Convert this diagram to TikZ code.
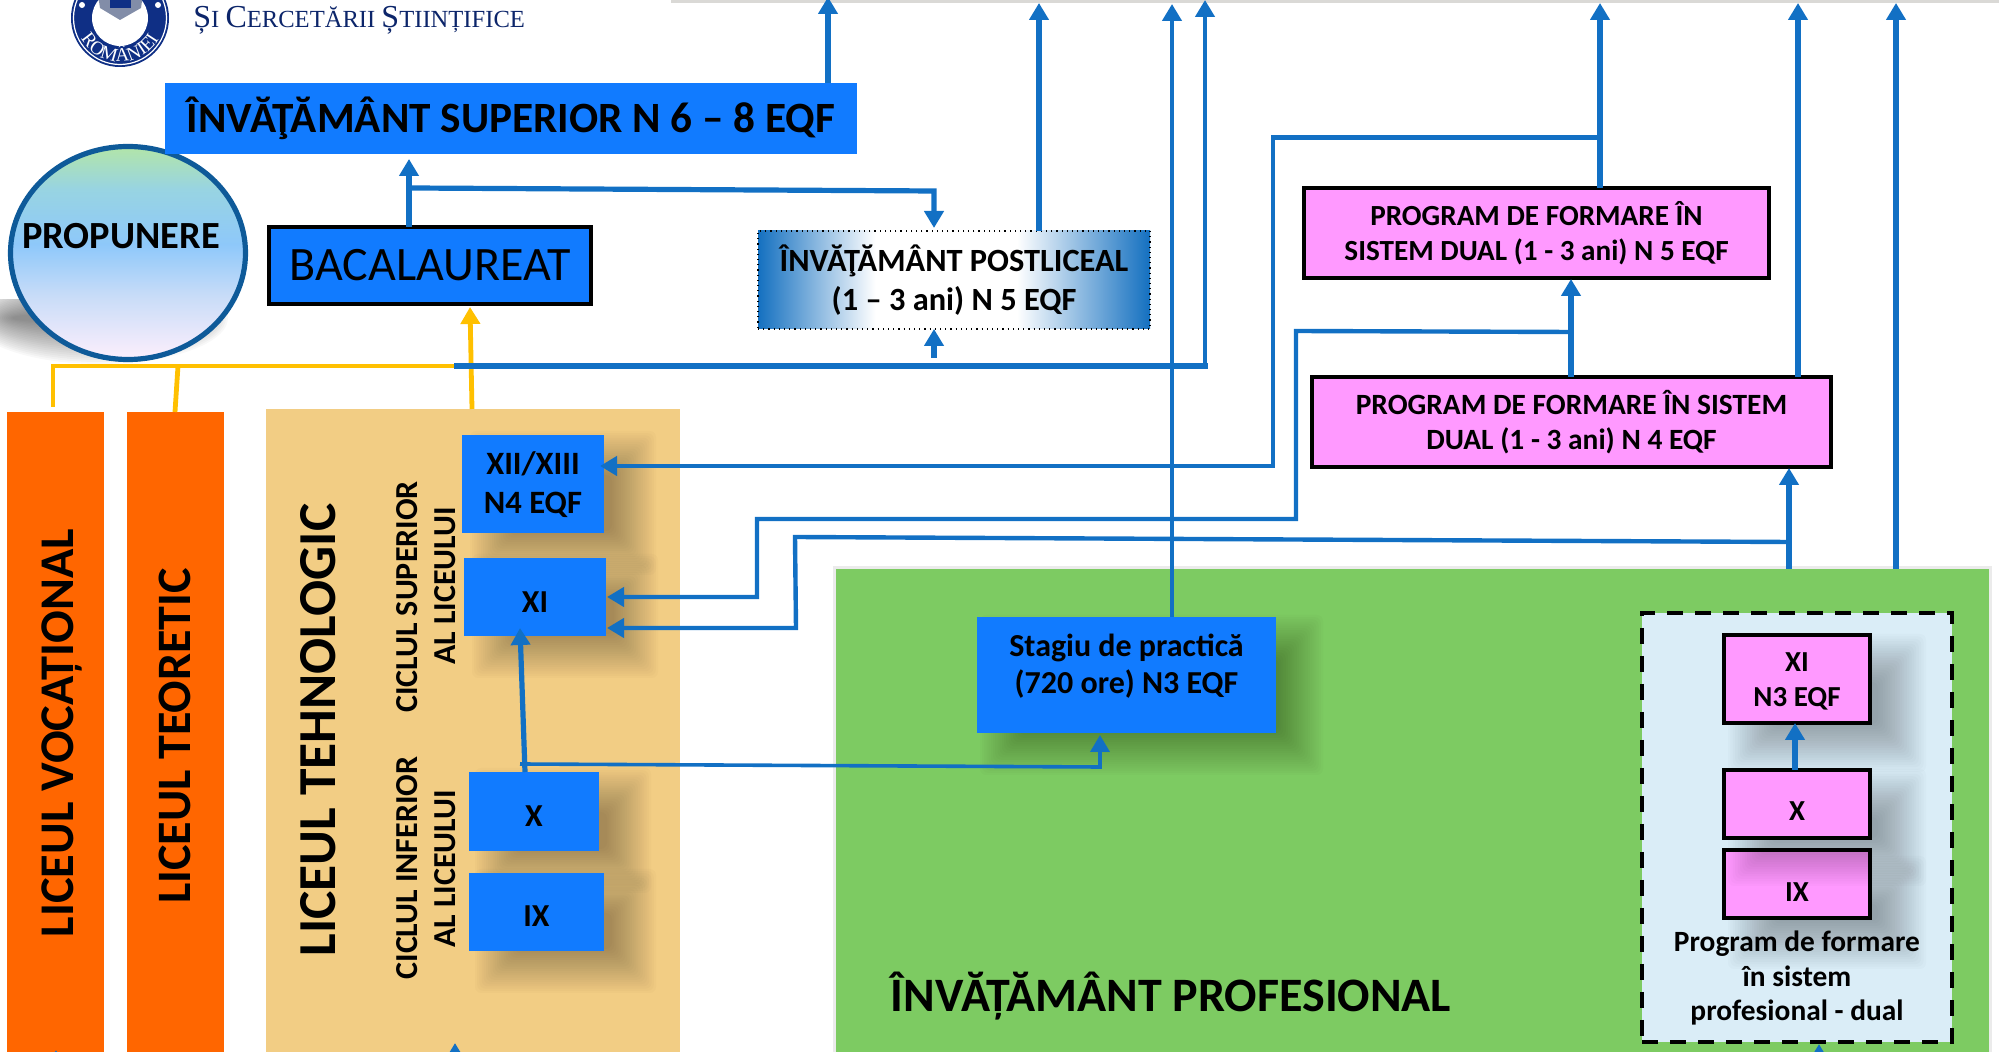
\documentclass[tikz,border=0pt]{standalone}
\usepackage{fontspec}
\setmainfont{Carlito}
\newfontfamily\serifhdr{Liberation Serif}
\usetikzlibrary{arrows.meta,decorations.text,shapes.geometric}
\definecolor{linkblue}{HTML}{1270C4}
\definecolor{boxblue}{HTML}{117BFF}
\definecolor{pinkbox}{HTML}{FF99FF}
\definecolor{orangebar}{HTML}{FF6600}
\definecolor{tanbar}{HTML}{F2CD84}
\definecolor{greenbar}{HTML}{7DCB62}
\definecolor{yellowline}{HTML}{FFC000}
\definecolor{palebox}{HTML}{DAEDF7}
\definecolor{navyseal}{HTML}{0F2F85}
\definecolor{edgeblue}{HTML}{1470C0}
\definecolor{ringblue}{HTML}{0E5A99}
\definecolor{propa}{HTML}{FDEFFC}
\definecolor{propb}{HTML}{C8DCF8}
\definecolor{propc}{HTML}{8EC8FA}
\definecolor{propd}{HTML}{98D4E2}
\definecolor{prope}{HTML}{B2E5A8}
\pgfdeclarehorizontalshading{postlshade}{100bp}{color(0bp)=(edgeblue); color(25bp)=(edgeblue); color(40bp)=(white); color(58bp)=(white); color(75bp)=(edgeblue); color(100bp)=(edgeblue)}
\pgfdeclareverticalshading{propshade}{100bp}{color(0bp)=(propa); color(25bp)=(propa); color(40bp)=(propb); color(52bp)=(propc); color(65bp)=(propd); color(75bp)=(prope); color(100bp)=(prope)}
\newcommand\fz[2]{\fontsize{#1pt}{#2pt}\selectfont}
\newcommand\shiftdown[2]{\raisebox{-#1}[\height][\depth]{#2}}
\newcommand\bx[7]{%
  \pgfmathsetmacro\cx{(#2+#4)/2}\pgfmathsetmacro\cy{(#3+#5)/2}%
  \pgfmathsetmacro\bw{(#4-#2)*0.5}\pgfmathsetmacro\bh{(#5-#3)*0.5}%
  \node[boxbase,#6,minimum width=\bw pt,minimum height=\bh pt] (#1) at (\cx,\cy) {#7};}
\newcommand\soft[6]{% x1 y1 x2 y2 blur alpha
  \foreach \k in {-10,...,10}{%
    \pgfmathsetmacro\dd{\k*#5/10}%
    \fill[black,opacity=#6,rounded corners=3pt] ({#1-\dd},{#2-\dd}) rectangle ({#3+\dd},{#4+\dd});}}
\tikzset{
  boxbase/.style={rectangle,inner sep=0pt,outer sep=0pt,align=center},
  fs/.style 2 args={font=\bfseries\fontsize{#1pt}{#2pt}\selectfont},
  blue box/.style={fill=boxblue},
  outlined blue/.style={fill=boxblue,draw=black,line width=2pt},
  pink box/.style={fill=pinkbox,draw=black,line width=2pt},
  conn/.style={draw=linkblue,line width=2.6pt,line cap=butt},
  thin conn/.style={draw=linkblue,line width=2.2pt},
  arr/.style={conn,-{Triangle[length=8.5pt,width=9.5pt]}},
  thin arr/.style={thin conn,-{Triangle[length=8.5pt,width=9.5pt]}},
  yl/.style={draw=yellowline,line width=2.4pt},
  yarr/.style={yl,-{Triangle[length=8.5pt,width=9.5pt]}},
  bar label/.style={rotate=90,inner sep=0pt},
}
\begin{document}
\begin{tikzpicture}[x=0.5pt,y=-0.5pt]
\useasboundingbox (0,0) rectangle (1999,1052);
\clip (0,0) rectangle (1999,1052);
% header
\fill[black!15!yellow!6!gray!35!white] (671,0) rectangle (1999,3);
\fill[navyseal] (120,18) circle [radius=49];
\draw[white,line width=0.6pt] (120,18) circle [radius=46.5];
\fill[white] (120,18) circle [radius=28];
\fill[navyseal!45!gray!70!white] (97,-12) -- (144,-12) -- (141,8) -- (120,20) -- (100,8) -- cycle;
\fill[navyseal] (110,-8) rectangle (131,8);
\node[diamond,fill=white,minimum size=9pt,inner sep=0pt] (sealgem) at (118,32) {};
\fill[white] (82,5) circle [radius=3] (158,5) circle [radius=3];
\path[decorate,decoration={text along path,text align=center,text={|\serifhdr\fontsize{9.5pt}{10pt}\selectfont\color{white}|ROMÂNIEI}}] (77,29) arc [start angle=195,end angle=345,x radius=44.5,y radius=-44];
\node[anchor=west,inner sep=0pt,text=navyseal!80!black] (ministry) at (193,20) {\serifhdr\fontsize{16pt}{18pt}\selectfont Ș\fontsize{12.3pt}{18pt}\selectfont I \fontsize{16pt}{18pt}\selectfont C\fontsize{12.3pt}{18pt}\selectfont ERCETĂRII \fontsize{16pt}{18pt}\selectfont Ș\fontsize{12.3pt}{18pt}\selectfont TIINȚIFICE};
% propunere shadow
\begin{scope}
\clip (0,300) rectangle (300,372);
\foreach \k in {0,...,20}{\fill[black,opacity=.028] (100,318) ellipse [x radius={128-2*\k},y radius={46-2*\k}];}
\end{scope}
% bars
\fill[black,opacity=.08] (833,566) rectangle (1992,1060);
\bx{vocational}{7}{412}{104}{1060}{fill=orangebar}{}
\bx{teoretic}{127}{412}{224}{1060}{fill=orangebar}{}
\bx{tehnologic}{266}{409}{680}{1060}{fill=tanbar}{}
\bx{profesional}{836}{569}{1989}{1060}{fill=greenbar}{}
\node[bar label,fs={24.2}{26}] (lv) at (62,733) {LICEUL VOCAȚIONAL};
\node[bar label,fs={24}{26}] (lt) at (175,736) {LICEUL TEORETIC};
\node[bar label,fs={26.7}{28}] (lte) at (318,730) {LICEUL TEHNOLOGIC};
\node[bar label,fs={16}{18}] (cs1) at (407,597) {CICLUL SUPERIOR};
\node[bar label,fs={16}{18}] (cs2) at (445,586) {AL LICEULUI};
\node[bar label,fs={16}{18}] (ci1) at (407,868) {CICLUL INFERIOR};
\node[bar label,fs={16}{18}] (ci2) at (445,869) {AL LICEULUI};
% yellow links
\coordinate (yl) at (53,366); \coordinate (ym) at (178,366); \coordinate (yr) at (457,366);
\draw[yl,line cap=rect] (yl) -- (yr);
\draw[yl] (vocational.north -| yl) ++(0,-5) -- (yl);
\draw[yl] (teoretic.north -| 175,0) -- (ym);
\coordinate (ytip) at (470,307);
\draw[yarr] (tehnologic.north -| 472,0) -- (ytip);
% ellipse
\node[ellipse,inner sep=0pt,outer sep=0pt,minimum width=117.5pt,minimum height=106.5pt,shade,shading=propshade,draw=ringblue,line width=2.6pt] (prop) at (128,253) {};
\node[inner sep=0pt,fs={19.2}{22}] (proplabel) at (121,236) {PROPUNERE};
% top boxes
\bx{sup}{165}{83}{857}{154}{blue box,fs={21.6}{24}}{ÎNVĂŢĂMÂNT SUPERIOR N 6 – 8 EQF}
\bx{bac}{269}{227}{591}{304}{outlined blue,font=\mdseries\fz{24}{26}}{BACALAUREAT}
\bx{post}{758}{231}{1150}{329}{shade,shading=postlshade,draw=black,dotted,line width=0.6pt,fs={16.2}{19.5}}{ÎNVĂŢĂMÂNT POSTLICEAL\\(1 – 3 ani) N 5 EQF}
\bx{dualv}{1304}{188}{1769}{278}{pink box,fs={14.6}{17.5}}{PROGRAM DE FORMARE ÎN\\SISTEM DUAL (1 - 3 ani) N 5 EQF}
\bx{dualiv}{1312}{377}{1831}{467}{pink box,fs={14.7}{17.5}}{PROGRAM DE FORMARE ÎN SISTEM\\DUAL (1 - 3 ani) N 4 EQF}
% tehnologic grades
\soft{492}{453}{634}{553}{22}{.016}
\soft{494}{576}{636}{656}{22}{.016}
\soft{497}{790}{629}{871}{22}{.016}
\soft{497}{891}{634}{971}{22}{.016}
\bx{xii}{462}{435}{604}{533}{blue box,fs={16.3}{19.5}}{\shiftdown{1.3pt}{\begin{tabular}{@{}c@{}}XII/XIII\\N4 EQF\end{tabular}}}
\bx{xi}{464}{558}{606}{636}{blue box,fs={16}{17}}{\shiftdown{2.5pt}{XI}}
\bx{x}{469}{772}{599}{851}{blue box,fs={16}{17}}{\shiftdown{2.5pt}{X}}
\bx{ix}{469}{873}{604}{951}{blue box,fs={16}{17}}{\shiftdown{2pt}{IX}}
% stagiu
\soft{1002}{637}{1301}{753}{22}{.016}
\bx{stagiu}{977}{617}{1276}{733}{blue box,fs={16}{18.5}}{\shiftdown{-3.5pt}{\begin{tabular}{@{}c@{}}Stagiu de practică\\(720 ore) N3 EQF\end{tabular}}}
\node[inner sep=0pt,fs={24}{26}] (ipro) at (1171,996) {ÎNVĂȚĂMÂNT PROFESIONAL};
% dual panel
\node[rectangle,inner sep=0pt,outer sep=0pt,fill=palebox,draw=black,line width=2pt,dash pattern=on 8pt off 6pt,minimum width=155pt,minimum height=214.5pt] (panel) at (1797,827.5) {};
\soft{1752}{658}{1902}{748}{24}{.016}
\soft{1752}{880}{1902}{945}{24}{.016}
\bx{pix}{1724}{850}{1870}{918}{pink box,fs={14.5}{16}}{\shiftdown{3.8pt}{IX}}
\soft{1752}{793}{1902}{862}{24}{.016}
\bx{px}{1724}{770}{1870}{838}{pink box,fs={14.5}{16}}{\shiftdown{3.8pt}{X}}
\bx{pxi}{1724}{635}{1870}{723}{pink box,fs={14.5}{17.5}}{\shiftdown{1.3pt}{\begin{tabular}{@{}c@{}}XI\\N3 EQF\end{tabular}}}
\node[inner sep=0pt,align=center,fs={14.7}{17.4}] (dualtxt) at (1797,978) {Program de formare\\în sistem\\profesional - dual};
% connectors
\coordinate (tipsup) at (828,-3);
\draw[arr] (sup.north -| tipsup) -- (tipsup);
\coordinate (tipbac) at (409,159); \coordinate (bacsplit) at (411,188); \coordinate (postbend) at (934,191); \coordinate (tippost) at (934,228);
\draw[arr] (bac.north -| tipbac) -- (tipbac);
\draw[arr] (bacsplit) -- (postbend) -- (tippost);
\coordinate (tippostup) at (1039,3);
\draw[arr] (post.north -| tippostup) -- (tippostup);
\coordinate (busend) at (1205,366); \coordinate (tipbus) at (1205,0); \coordinate (tipunder) at (934,329); \coordinate (tailunder) at (934,358);
\draw[arr] (tailunder) -- (tipunder);
\draw[conn,line cap=rect] (yr) -- (busend);
\draw[thin arr] (busend) -- (tipbus);
\coordinate (tipstag) at (1172,4);
\draw[thin arr] (stagiu.north -| tipstag) -- (tipstag);
\coordinate (tipdualv) at (1600,3); \coordinate (splitv) at (1600,137.5); \coordinate (cornerv) at (1273,137.5); \coordinate (cornerv2) at (1273,466); \coordinate (tipxii) at (600,466);
\draw[arr] (dualv.north -| tipdualv) -- (tipdualv);
\draw[conn] (splitv) -- (cornerv);
\draw[thin arr,line cap=rect] (cornerv) -- (cornerv2) -- (tipxii);
\coordinate (tipdv) at (1571,279); \coordinate (splitiv) at (1571,332); \coordinate (civ1) at (1296,331); \coordinate (civ2) at (1296,519); \coordinate (civ3) at (757,519); \coordinate (civ4) at (757,597); \coordinate (tipxi1) at (607,597);
\draw[arr] (dualiv.north -| tipdv) -- (tipdv);
\draw[thin arr] (splitiv) -- (civ1) -- (civ2) -- (civ3) -- (civ4) -- (tipxi1);
\coordinate (tipdiv) at (1789,468); \coordinate (spl) at (1789,542); \coordinate (c1) at (795,537); \coordinate (c2) at (796,628); \coordinate (tipxi2) at (607,628);
\draw[arr] (profesional.north -| tipdiv) -- (tipdiv);
\draw[thin arr] (spl) -- (c1) -- (c2) -- (tipxi2);
\coordinate (tipup) at (1798,3);
\draw[arr] (dualiv.north -| tipup) -- (tipup);
\coordinate (tipprof) at (1896,3);
\draw[arr] (profesional.north -| tipprof) -- (tipprof);
\coordinate (tipxi) at (520,628); \coordinate (tailx) at (525,774);
\draw[arr] (x.north -| tailx) -- (tipxi);
\coordinate (bs) at (520,764); \coordinate (bc) at (1100,767); \coordinate (tips) at (1100,735);
\draw[thin arr,line width=1.8pt] (bs) -- (bc) -- (tips);
\draw[draw=linkblue,line width=2.6pt,-{Triangle[length=8.5pt,width=9.5pt]}] (pxi.south |- px.north) ++(-2,0) -- ++(0,-47);
\coordinate (tipb1) at (455,1043); \coordinate (tipb2) at (1819,1044); \coordinate (tipb3) at (56,1050);
\draw[arr] (tehnologic.south -| tipb1) -- (tipb1);
\draw[arr] (profesional.south -| tipb2) -- (tipb2);
\draw[arr] (vocational.south -| tipb3) -- (tipb3);
\end{tikzpicture}
\end{document}
